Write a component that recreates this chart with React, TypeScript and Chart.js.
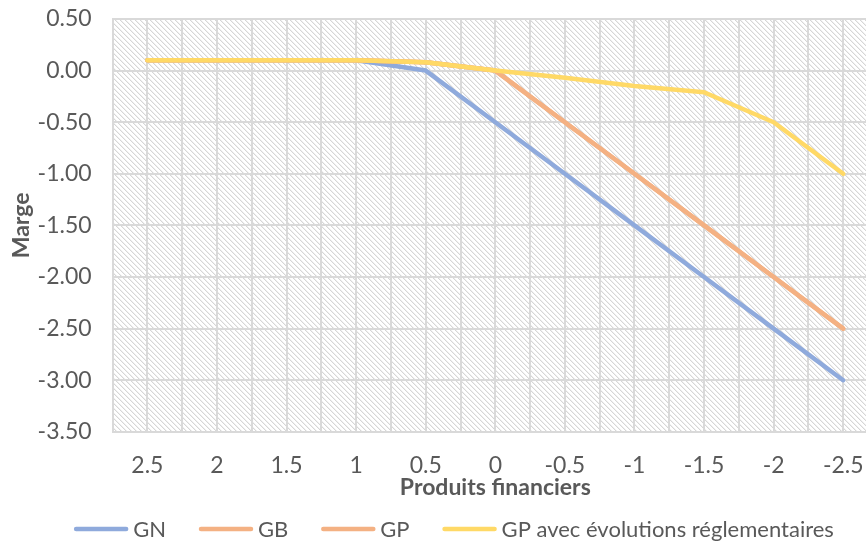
import React, { useEffect, useRef } from "react";
import { Chart, registerables } from "chart.js";

Chart.register(...registerables);

// Produits financiers (x) and Marge (y) for each scenario
const produitsFinanciers = [2.5, 2, 1.5, 1, 0.5, 0, -0.5, -1, -1.5, -2, -2.5];
const margeGN = [0.1, 0.1, 0.1, 0.1, 0.0, -0.5, -1.0, -1.5, -2.0, -2.5, -3.0];
const margeGB = [0.1, 0.1, 0.1, 0.1, 0.08, 0.0, -0.5, -1.0, -1.5, -2.0, -2.5];
const margeGP = [0.1, 0.1, 0.1, 0.1, 0.08, 0.0, -0.5, -1.0, -1.5, -2.0, -2.5];
const margeGPReg = [0.1, 0.1, 0.1, 0.1, 0.08, 0.0, -0.07, -0.15, -0.21, -0.5, -1.0];

const seriesNames = ["GN", "GB", "GP", "GP avec évolutions réglementaires"];
const seriesColors = ["#8FAADC", "#F4B183", "#F4B183", "#FFD966"];

const FONT = "Lato, 'Open Sans', sans-serif";
const TEXT = "#595959";
const GRID = "#d9d9d9";
const LEGEND_FONT = `22px ${FONT}`;

function makeHatch(ctx: CanvasRenderingContext2D) {
  const size = 5;
  const c = document.createElement("canvas");
  c.width = size;
  c.height = size;
  const g = c.getContext("2d")!;
  g.fillStyle = "#ffffff";
  g.fillRect(0, 0, size, size);
  for (let y = 0; y < size; y++) {
    for (let x = 0; x < size; x++) {
      const d = (((x - y) % size) + size) % size;
      if (d === 0) {
        g.fillStyle = "#d6d6d6";
        g.fillRect(x, y, 1, 1);
      } else if (d === 1) {
        g.fillStyle = "#f0f0f0";
        g.fillRect(x, y, 1, 1);
      }
    }
  }
  return ctx.createPattern(c, "repeat")!;
}

// Hatched plot-area fill
const hatchBackground = {
  id: "hatchBackground",
  beforeDraw(chart: any) {
    const { ctx, chartArea } = chart;
    if (!chartArea) return;
    ctx.save();
    ctx.fillStyle = makeHatch(ctx);
    ctx.fillRect(
      chartArea.left,
      chartArea.top,
      chartArea.right - chartArea.left,
      chartArea.bottom - chartArea.top
    );
    ctx.restore();
  },
};

// Legend row under the axis title: line swatch + series name
const lineLegend = {
  id: "lineLegend",
  afterDraw(chart: any) {
    const { ctx } = chart;
    const swatch = 54;
    const gapText = 5;
    const gapItem = 33;
    const centerX = 454;
    const y = 529;
    ctx.save();
    ctx.font = LEGEND_FONT;
    const items = chart.data.datasets.map((ds: any) => ({
      label: ds.label as string,
      color: ds.borderColor as string,
      w: ctx.measureText(ds.label).width,
    }));
    const total =
      items.reduce((s: number, it: any) => s + swatch + gapText + it.w, 0) +
      gapItem * (items.length - 1);
    let x = centerX - total / 2;
    ctx.textBaseline = "middle";
    ctx.textAlign = "left";
    for (const it of items) {
      ctx.strokeStyle = it.color;
      ctx.lineWidth = 4.5;
      ctx.lineCap = "round";
      ctx.beginPath();
      ctx.moveTo(x + 2, y);
      ctx.lineTo(x + swatch - 2, y);
      ctx.stroke();
      ctx.fillStyle = TEXT;
      ctx.fillText(it.label, x + swatch + gapText, y + 1);
      x += swatch + gapText + it.w + gapItem;
    }
    ctx.restore();
  },
};

export default function App() {
  const canvasRef = useRef<HTMLCanvasElement | null>(null);

  useEffect(() => {
    document.body.style.margin = "0";
    const series = [margeGN, margeGB, margeGP, margeGPReg];
    const drawOrder = [3, 2, 1, 0];
    const chart = new Chart(canvasRef.current!, {
      type: "line",
      data: {
        datasets: series.map((vals, i) => ({
          label: seriesNames[i],
          data: produitsFinanciers.map((x, j) => ({ x, y: vals[j] })),
          borderColor: seriesColors[i],
          backgroundColor: seriesColors[i],
          borderWidth: 4.5,
          pointRadius: 0,
          tension: 0,
          borderJoinStyle: "round" as const,
          borderCapStyle: "round" as const,
          order: drawOrder[i],
        })),
      },
      options: {
        animation: false,
        responsive: false,
        layout: { padding: { top: 19, right: 30, left: 6, bottom: 40 } },
        plugins: {
          tooltip: { enabled: false },
          legend: { display: false },
        },
        scales: {
          x: {
            type: "linear",
            reverse: true,
            min: -2.75,
            max: 2.75,
            grid: {
              color: GRID,
              lineWidth: 2,
              drawTicks: true,
              tickLength: 20,
              tickColor: "rgba(0,0,0,0)",
            },
            border: { color: GRID, width: 2 },
            title: {
              display: true,
              text: "Produits financiers",
              color: TEXT,
              font: { family: FONT, size: 23, weight: "bold" },
              padding: { top: -6, bottom: 0 },
            },
            ticks: {
              stepSize: 0.25,
              autoSkip: false,
              maxRotation: 0,
              padding: 0,
              color: TEXT,
              font: { family: FONT, size: 23 },
              callback: (v: any) => {
                const n = Number(v);
                const half = Math.round(n * 2);
                if (Math.abs(n * 2 - half) > 1e-6 || Math.abs(n) > 2.5 + 1e-6) return "";
                return String(half / 2 === 0 ? 0 : half / 2);
              },
            },
          },
          y: {
            min: -3.5,
            max: 0.5,
            grid: {
              color: GRID,
              lineWidth: 2,
              drawTicks: true,
              tickLength: 21,
              tickColor: "rgba(0,0,0,0)",
            },
            border: { color: GRID, width: 2 },
            title: {
              display: true,
              text: "Marge",
              color: TEXT,
              font: { family: FONT, size: 23, weight: "bold" },
              padding: { top: 2, bottom: 2 },
            },
            ticks: {
              stepSize: 0.5,
              padding: 0,
              color: TEXT,
              font: { family: FONT, size: 23 },
              callback: (v: any) => Number(v).toFixed(2),
            },
          },
        },
      },
      plugins: [hatchBackground, lineLegend],
    });
    return () => chart.destroy();
  }, []);

  return (
    <div style={{ width: 866, height: 541, overflow: "hidden" }}>
      <canvas ref={canvasRef} width={908} height={541} />
    </div>
  );
}
